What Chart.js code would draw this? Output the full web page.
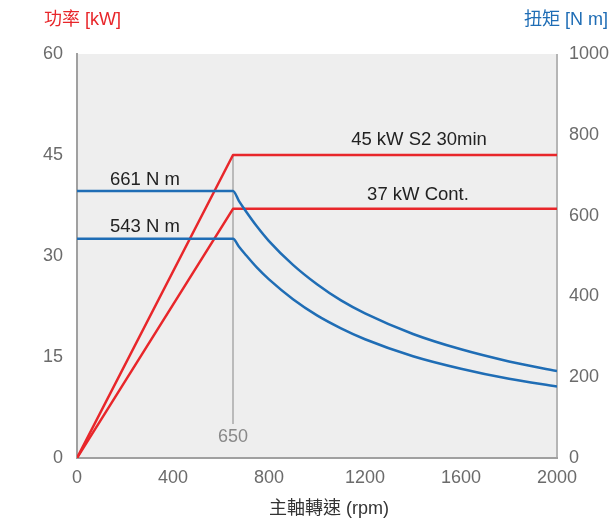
<!DOCTYPE html>
<html>
<head>
<meta charset="utf-8">
<script src="https://cdn.jsdelivr.net/npm/chart.js@4/dist/chart.umd.min.js"></script>
<style>
  html, body { margin: 0; padding: 0; background: #fff; }
  #wrap { width: 612px; height: 520px; }
</style>
</head>
<body>
<div id="wrap"><canvas id="chart" width="612" height="520"></canvas></div>
<script>
// power lines (kW) - rpm / kW
const powerRpm = [0, 650, 2000];
const powerS2 = [0, 45, 45];
const powerCont = [0, 37, 37];

// torque curves (N m)
const torqueRpm = [0, 650, 675, 700, 750, 800, 900, 1000, 1100, 1200, 1400, 1600, 1800, 2000];
const torqueS2 = [661, 661, 636, 614, 573, 537, 478, 430, 390, 358, 307, 269, 239, 215];
const torqueCont = [543, 543, 523, 505, 471, 442, 393, 353, 321, 294, 252, 221, 196, 177];

const powerTicks = [0, 15, 30, 45, 60];
const torqueTicks = [0, 200, 400, 600, 800, 1000];
const rpmTicks = [0, 400, 800, 1200, 1600, 2000];
const baseSpeed = 650;

const RED = "#e8262a";
const BLUE = "#1f6db5";
const GRAY = "#6b6b6b";
const FONT = "'Liberation Sans', 'Noto Sans CJK TC', sans-serif";

const pts = (xs, ys) => xs.map((x, i) => ({ x: x, y: ys[i] }));
const plain = v => String(v);

const bgPlugin = {
  id: "bg",
  beforeDraw(chart) {
    const { ctx, chartArea: a } = chart;
    ctx.save();
    ctx.fillStyle = "#eeeeee";
    ctx.fillRect(a.left, a.top, a.right - a.left, a.bottom - a.top);
    // right border
    ctx.strokeStyle = "#b5b5b5";
    ctx.lineWidth = 2;
    ctx.beginPath();
    ctx.moveTo(a.right, a.top);
    ctx.lineTo(a.right, a.bottom);
    ctx.stroke();
    // base speed marker
    const x = chart.scales.x.getPixelForValue(baseSpeed);
    const yTop = chart.scales.yP.getPixelForValue(45);
    ctx.strokeStyle = "#a8a8a8";
    ctx.lineWidth = 1.5;
    ctx.beginPath();
    ctx.moveTo(x, yTop);
    ctx.lineTo(x, a.bottom - 34);
    ctx.stroke();
    ctx.restore();
  },
  afterDraw(chart) {
    const { ctx, chartArea: a, scales } = chart;
    ctx.save();
    ctx.font = "18px " + FONT;
    ctx.textBaseline = "middle";
    ctx.fillStyle = RED;
    ctx.textAlign = "left";
    ctx.fillText("功率 [kW]", 44, 20);
    ctx.fillStyle = BLUE;
    ctx.textAlign = "right";
    ctx.fillText("扭矩 [N m]", 608, 20);

    ctx.fillStyle = "#333";
    ctx.textAlign = "center";
    ctx.fillText("主軸轉速 (rpm)", 329, 509);

    ctx.font = "18.5px " + FONT;
    ctx.fillStyle = "#222";
    ctx.textAlign = "left";
    ctx.fillText("661 N m", 110, 180);
    ctx.fillText("543 N m", 110, 227);
    ctx.textAlign = "center";
    ctx.fillText("45 kW S2 30min", 419, 140);
    ctx.fillText("37 kW Cont.", 418, 195);

    ctx.font = "18px " + FONT;
    ctx.fillStyle = "#888";
    ctx.fillText(String(baseSpeed), scales.x.getPixelForValue(baseSpeed), a.bottom - 21);
    ctx.restore();
  }
};

new Chart(document.getElementById("chart"), {
  type: "line",
  data: {
    datasets: [
      { data: pts(torqueRpm, torqueS2), yAxisID: "yT", borderColor: BLUE, cubicInterpolationMode: "monotone" },
      { data: pts(torqueRpm, torqueCont), yAxisID: "yT", borderColor: BLUE, cubicInterpolationMode: "monotone" },
      { data: pts(powerRpm, powerS2), yAxisID: "yP", borderColor: RED },
      { data: pts(powerRpm, powerCont), yAxisID: "yP", borderColor: RED }
    ]
  },
  plugins: [bgPlugin],
  options: {
    responsive: false,
    animation: false,
    layout: { padding: { top: 54, left: 0, right: 0, bottom: 0 } },
    elements: {
      point: { radius: 0 },
      line: { borderWidth: 2.5, fill: false, tension: 0, borderJoinStyle: "round" }
    },
    plugins: {
      legend: { display: false },
      tooltip: { enabled: false }
    },
    scales: {
      x: {
        type: "linear",
        min: 0, max: 2000,
        afterBuildTicks: s => { s.ticks = rpmTicks.map(v => ({ value: v })); },
        grid: { display: false },
        border: { color: "#a0a0a0", width: 2 },
        ticks: { color: GRAY, font: { size: 18, family: FONT }, padding: 1, maxRotation: 0, callback: plain },
        afterFit: s => { s.height = 62; }
      },
      yP: {
        position: "left",
        min: 0, max: 60,
        afterBuildTicks: s => { s.ticks = powerTicks.map(v => ({ value: v })); },
        grid: { display: false },
        border: { color: "#a0a0a0", width: 2 },
        ticks: { color: GRAY, font: { size: 18, family: FONT }, padding: 6, callback: plain },
        afterFit: s => { s.width = 77; }
      },
      yT: {
        position: "right",
        min: 0, max: 1000,
        afterBuildTicks: s => { s.ticks = torqueTicks.map(v => ({ value: v })); },
        grid: { display: false },
        border: { display: false },
        ticks: { color: GRAY, font: { size: 18, family: FONT }, padding: 4, callback: plain },
        afterFit: s => { s.width = 55; }
      }
    }
  }
});
</script>
</body>
</html>
